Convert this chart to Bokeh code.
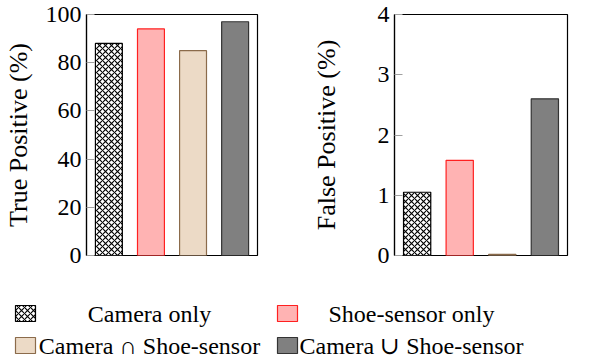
from bokeh.plotting import figure
from bokeh.models import ColumnDataSource, Range1d, FixedTicker
from bokeh.layouts import column, row
from bokeh.embed import file_html
from bokeh.resources import INLINE
from bokeh.core.properties import value

# ---- data ----
series = ["Camera only", "Shoe-sensor only", "Camera \u2229 Shoe-sensor", "Camera \u222a Shoe-sensor"]
true_positive = [88, 94, 85, 97]
false_positive = [1.05, 1.58, 0.02, 2.6]
tp_ticks = [0, 20, 40, 60, 80, 100]
fp_ticks = [0, 1, 2, 3, 4]

# ---- styles ----
fill_colors = ["#ffffff", "#ffb3b3", "#ecdac6", "#808080"]
line_colors = ["#000000", "#ff2020", "#8b6b4b", "#333333"]
hatches = ["x", " ", " ", " "]
FONT = "Liberation Serif"


def make_bar(values, ticks, ymax, label, width, bl, br, label_standoff):
    p = figure(width=width, height=271, x_range=Range1d(0.468, 4.532),
               y_range=Range1d(0, ymax), output_backend="svg", toolbar_location=None,
               min_border_left=bl, min_border_right=br, min_border_top=14, min_border_bottom=16)
    src = ColumnDataSource(dict(x=list(range(1, len(values) + 1)), top=values,
                                fill=fill_colors, line=line_colors, hatch=hatches))
    p.vbar(x="x", top="top", bottom=0, width=0.64, source=src, fill_color="fill",
           line_color="line", line_width=1.2, hatch_pattern="hatch", hatch_color="black",
           hatch_scale=6, hatch_weight=1.1)
    p.xaxis.visible = False
    p.xgrid.visible = False
    p.ygrid.visible = False
    p.outline_line_color = "black"
    p.outline_line_width = 1.2
    p.background_fill_color = "white"
    p.border_fill_color = "white"
    ax = p.yaxis[0]
    ax.ticker = FixedTicker(ticks=ticks)
    ax.major_tick_in = 8
    ax.major_tick_out = 0
    ax.major_tick_line_color = "#a0a0a0"
    ax.minor_tick_line_color = None
    ax.axis_line_color = "black"
    ax.axis_line_width = 1.2
    ax.major_label_standoff = 5
    ax.major_label_text_font = FONT
    ax.major_label_text_font_size = "24px"
    ax.major_label_text_color = "black"
    ax.axis_label = label
    ax.axis_label_text_font = FONT
    ax.axis_label_text_font_size = "26px"
    ax.axis_label_text_font_style = "normal"
    ax.axis_label_text_color = "black"
    ax.axis_label_standoff = label_standoff
    return p


p1 = make_bar(true_positive, tp_ticks, 100, "True Positive (%)", 300, 85, 43, 10)
p2 = make_bar(false_positive, fp_ticks, 4, "False Positive (%)", 300, 94, 33, 34)

# ---- legend panel (pixel coordinates) ----
leg = figure(width=600, height=89, x_range=Range1d(0, 600), y_range=Range1d(360, 271),
             output_backend="svg", toolbar_location=None, min_border=0)
leg.axis.visible = False
leg.grid.visible = False
leg.outline_line_color = None
box_x = [25, 287, 25, 287]
box_y = [313, 313, 345, 345]
text_x = [149, 411, 149, 411]
lsrc = ColumnDataSource(dict(bx=box_x, by=box_y, tx=text_x, label=series,
                             fill=fill_colors, line=line_colors, hatch=hatches))
leg.rect(x="bx", y="by", width=20, height=16, source=lsrc, fill_color="fill",
         line_color="line", line_width=1.2, hatch_pattern="hatch", hatch_color="black",
         hatch_scale=6, hatch_weight=1.1)
leg.text(x="tx", y="by", text="label", source=lsrc, text_align="center",
         text_baseline="middle", text_font=value("Liberation Serif, DejaVu Serif"),
         text_font_size="24px", text_color="black")

layout = column(row(p1, p2), leg)
open("out.html", "w").write(file_html(layout, INLINE))
